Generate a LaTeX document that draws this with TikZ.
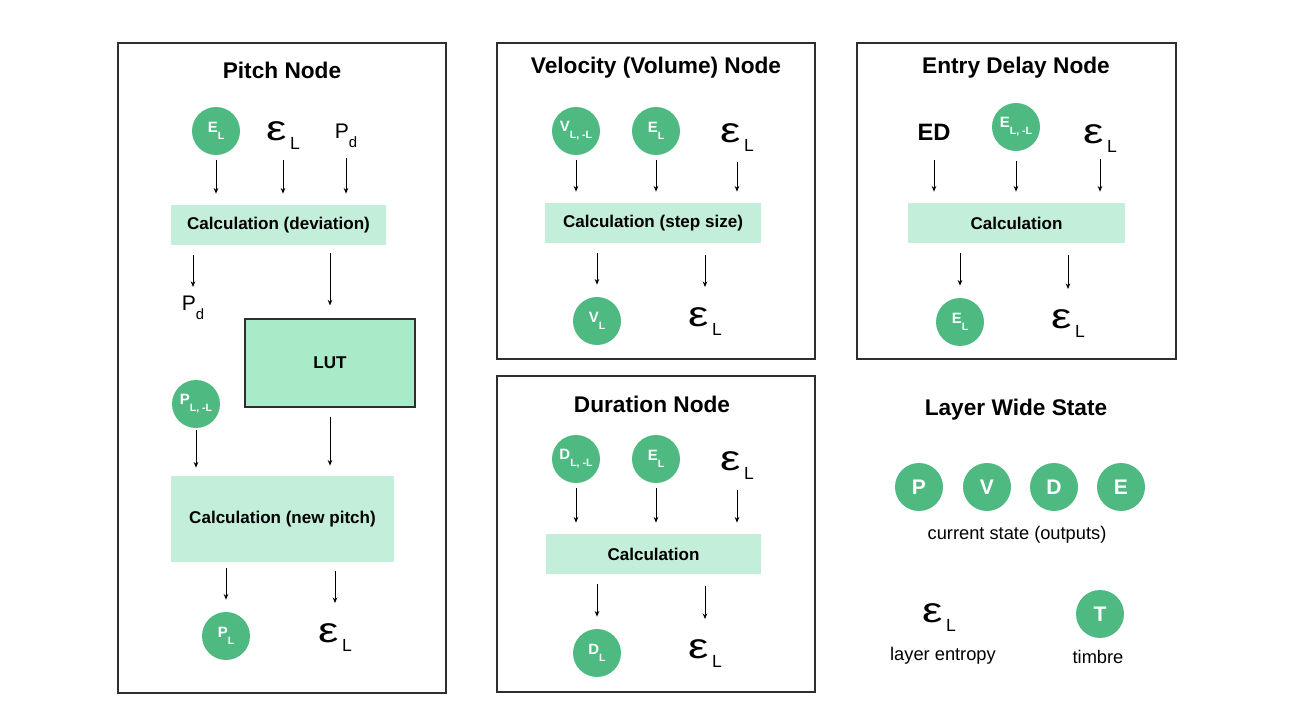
\documentclass[tikz,border=0pt]{standalone}
\usepackage{fontspec}
\setmainfont{Liberation Sans}
\usepackage{tikz}
\usetikzlibrary{positioning,arrows.meta}

\definecolor{stategreen}{HTML}{4EBA82}
\definecolor{calcgreen}{HTML}{C3EFDA}
\definecolor{lutgreen}{HTML}{A9EAC9}
\definecolor{framegray}{HTML}{2E2E2E}

\newcommand{\epsL}{{\fontsize{20}{20}\selectfont\scalebox{1.3}[1]{ε}}\kern2pt\smash{\raisebox{-5.5pt}{\fontsize{10}{10}\selectfont L}}}
\newcommand{\Pdev}{{\fontsize{12}{12}\selectfont P}\smash{\raisebox{-5pt}{\fontsize{8.5}{8.5}\selectfont d}}}
\newcommand{\sv}[2]{#1\raisebox{-3.8pt}{\fontsize{6}{6}\selectfont #2}}

\tikzset{
	panel/.style={draw=framegray, line width=0.75pt},
	paneltitle/.style={font=\fontsize{12.9}{13}\selectfont\bfseries},
	statedot/.style={circle, fill=stategreen, text=white, minimum size=0.96cm, inner sep=0pt, font=\fontsize{8.5}{8.5}\selectfont\bfseries},
	bigdot/.style={statedot, font=\fontsize{12}{12}\selectfont\bfseries},
	symb/.style={inner sep=0pt},
	calcbox/.style={fill=calcgreen, minimum width=4.3cm, minimum height=0.8cm, font=\fontsize{9.7}{10}\selectfont\bfseries},
	lutbox/.style={draw=framegray, fill=lutgreen, line width=0.6pt, minimum width=3.4cm, minimum height=1.76cm, font=\fontsize{9.7}{10}\selectfont\bfseries},
	caption/.style={font=\fontsize{10.4}{11}\selectfont},
	arr/.style={-{Stealth[length=3.2pt,width=2.6pt]}, line width=0.55pt},
	incirc/.style={arr, shorten <=0.1cm, shorten >=0.22cm},
	intext/.style={arr, shorten <=0.38cm, shorten >=0.22cm},
	outcirc/.style={arr, shorten <=0.2cm, shorten >=0.24cm},
	outtext/.style={arr, shorten <=0.24cm, shorten >=0.4cm},
}

\begin{document}
\begin{tikzpicture}[x=0.02cm, y=-0.02cm]
		\useasboundingbox (0,0) rectangle (1296,720);

		\draw[panel] (118,43) rectangle (446,693);
		\draw[panel] (497,43) rectangle (815,359);
		\draw[panel] (857,43) rectangle (1176,359);
		\draw[panel] (497,376) rectangle (815,692);

		\node[paneltitle] (ptitle) at (282,70) {Pitch Node};
		\node[statedot] (pe) at (216,131) {\sv{E}{L}};
		\node[symb] (peps) at (283,131) {\epsL};
		\node[symb] (ppd) at (346,131) {\Pdev};
		\node[calcbox] (pcalc1) at (278.5,225) {Calculation (deviation)};
		\draw[incirc] (pe) -- (pe |- pcalc1.north);
		\draw[intext] (peps) -- (peps |- pcalc1.north);
		\draw[intext] (ppd) -- (ppd |- pcalc1.north);
		\node[symb] (ppd2) at (193,303) {\Pdev};
		\node[lutbox] (lut) at (330,363) {LUT};
		\draw[arr, shorten <=0.2cm, shorten >=0.17cm] (pcalc1.south -| ppd2) -- (ppd2);
		\draw[arr, shorten <=0.16cm, shorten >=0.26cm] (pcalc1.south -| lut) -- (lut.north);
		\node[statedot] (ppl) at (196,404) {\sv{P}{L, -L}};
		\node[calcbox, minimum width=4.46cm, minimum height=1.72cm] (pcalc2) at (282.5,519) {Calculation (new pitch)};
		\draw[arr, shorten <=0.04cm, shorten >=0.16cm] (ppl) -- (ppl |- pcalc2.north);
		\draw[arr, shorten <=0.18cm, shorten >=0.2cm] (lut.south) -- (lut |- pcalc2.north);
		\node[statedot] (pout) at (226,636) {\sv{P}{L}};
		\node[symb] (peps2) at (335,633) {\epsL};
		\draw[arr, shorten <=0.12cm, shorten >=0.24cm] (pcalc2.south -| pout) -- (pout);
		\draw[arr, shorten <=0.18cm, shorten >=0.4cm] (pcalc2.south -| peps2) -- (peps2);

		\node[paneltitle] (vtitle) at (656,68) {Velocity (Volume) Node};
		\node[statedot] (vv) at (576,131) {\sv{V}{L, -L}};
		\node[statedot] (ve) at (656,131) {\sv{E}{L}};
		\node[symb] (veps) at (737,133) {\epsL};
		\node[calcbox, minimum width=4.32cm] (vcalc) at (653,223) {Calculation (step size)};
		\draw[incirc] (vv) -- (vv |- vcalc.north);
		\draw[incirc] (ve) -- (ve |- vcalc.north);
		\draw[intext] (veps) -- (veps |- vcalc.north);
		\node[statedot] (vout) at (597,321) {\sv{V}{L}};
		\node[symb] (veps2) at (705,317) {\epsL};
		\draw[outcirc] (vcalc.south -| vout) -- (vout);
		\draw[outtext] (vcalc.south -| veps2) -- (veps2);

		\node[paneltitle] (etitle) at (1016,68) {Entry Delay Node};
		\node[font=\fontsize{13.5}{14}\selectfont\bfseries, inner sep=0pt] (ed) at (934,132) {ED};
		\node[statedot] (ee) at (1016,127) {\sv{E}{L, -L}};
		\node[symb] (eeps) at (1100,134) {\epsL};
		\node[calcbox, minimum width=4.34cm] (ecalc) at (1016.5,223) {Calculation};
		\draw[intext] (ed) -- (ed |- ecalc.north);
		\draw[incirc, shorten <=0.2cm] (ee) -- (ee |- ecalc.north);
		\draw[intext, shorten <=0.3cm] (eeps) -- (eeps |- ecalc.north);
		\node[statedot] (eout) at (960,322) {\sv{E}{L}};
		\node[symb] (eeps2) at (1068,319) {\epsL};
		\draw[outcirc] (ecalc.south -| eout) -- (eout);
		\draw[outtext] (ecalc.south -| eeps2) -- (eeps2);

		\node[paneltitle] (dtitle) at (652,404) {Duration Node};
		\node[statedot] (dd) at (576,459) {\sv{D}{L, -L}};
		\node[statedot] (de) at (656,459) {\sv{E}{L}};
		\node[symb] (deps) at (737,461) {\epsL};
		\node[calcbox, minimum width=4.32cm] (dcalc) at (653.5,554) {Calculation};
		\draw[incirc] (dd) -- (dd |- dcalc.north);
		\draw[incirc] (de) -- (de |- dcalc.north);
		\draw[intext] (deps) -- (deps |- dcalc.north);
		\node[statedot] (dout) at (597,653) {\sv{D}{L}};
		\node[symb] (deps2) at (705,649) {\epsL};
		\draw[outcirc] (dcalc.south -| dout) -- (dout);
		\draw[outtext] (dcalc.south -| deps2) -- (deps2);

		\node[paneltitle] (ltitle) at (1016,410) {Layer Wide State};
		\foreach \n/\x in {P/919,V/987,D/1054,E/1121}{
			\node[bigdot] (l\n) at (\x,487) {\n};
		}
		\node[caption] (lcap) at (1017,535) {current state (outputs)};
		\node[symb] (leps) at (939,613) {\epsL};
		\node[caption] (lent) at (943,656) {layer entropy};
		\node[bigdot] (lt) at (1100,614) {T};
		\node[caption] (ltim) at (1098,657) {timbre};
\end{tikzpicture}
\end{document}
